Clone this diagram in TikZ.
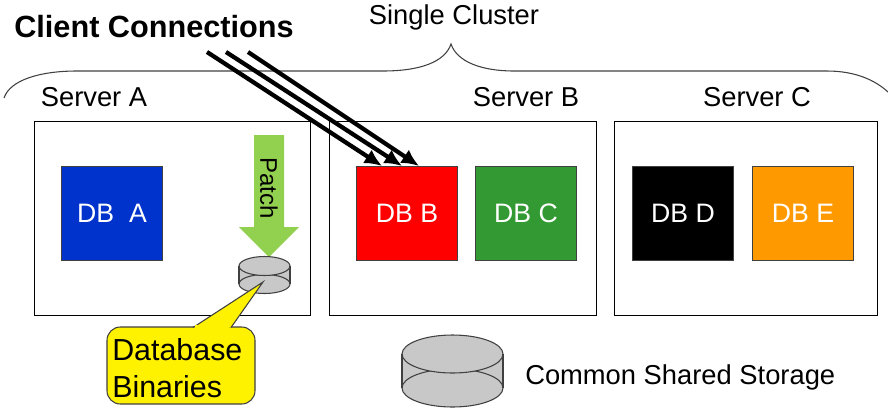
\documentclass[tikz,border=0pt]{standalone}
\usepackage{fontspec}
\setmainfont{Liberation Sans}
\usetikzlibrary{arrows.meta}
\definecolor{dbblue}{HTML}{0033CC}
\definecolor{dbgreen}{HTML}{339933}
\definecolor{dborange}{HTML}{FF9900}
\definecolor{patchgreen}{HTML}{92D050}
\definecolor{diskgrey}{HTML}{C8C8C8}
\definecolor{edgegrey}{HTML}{404040}
\tikzset{
    serverbox/.style={draw=black, line width=0.7pt, fill=white},
    dbbox/.style={draw=edgegrey, line width=0.6pt, text=white, inner sep=0pt, minimum width=76pt, minimum height=70pt, font=\fontsize{20}{24}\selectfont},
    label/.style={font=\fontsize{20.5}{24}\selectfont, text=black},
    disk/.style={draw=edgegrey, line width=0.8pt, fill=diskgrey},
    client/.style={line width=3.2pt, -{Latex[length=13pt,width=12pt]}},
}
\begin{document}
\begin{tikzpicture}[x=0.75pt, y=-0.75pt]
    \useasboundingbox (0,0) rectangle (888,408);
    % cluster brace
    \draw [edgegrey, line width=0.8pt] (4,98) .. controls (10,80) and (40,71) .. (77,71) -- (383,71)
        .. controls (420,71) and (445,62) .. (451,44) .. controls (457,62) and (482,71) .. (514,71)
        -- (827,71) .. controls (855,71) and (875,80) .. (888,92);
    % servers
    \draw [serverbox] (34,121) rectangle (310,315);
    \draw [serverbox] (329,121) rectangle (596,315);
    \draw [serverbox] (614,121) rectangle (877,315);
    % databases
    \node [dbbox, fill=dbblue] (dbA) at (112,213.5) {DB\ \ A};
    \node [dbbox, fill=red] (dbB) at (407,213.5) {DB B};
    \node [dbbox, fill=dbgreen] (dbC) at (526,213.5) {DB C};
    \node [dbbox, fill=black] (dbD) at (683,213.5) {DB D};
    \node [dbbox, fill=dborange] (dbE) at (803,213.5) {DB E};
    % patch arrow
    \fill [patchgreen] (254,135) -- (284,135) -- (284,227) -- (299,227) -- (269,257) -- (239,227) -- (254,227) -- cycle;
    \node [rotate=-90, font=\fontsize{18}{20}\selectfont] (patch) at (269,188) {Patch};
    % binaries disk
    \fill [diskgrey] (239,266) rectangle (290,284);
    \draw [disk] (264.5,284) ellipse [x radius=25.5, y radius=9.5];
    \draw [disk] (264.5,266) ellipse [x radius=25.5, y radius=9.5];
    \draw [edgegrey, line width=0.8pt] (239,266) -- (239,284) (290,266) -- (290,284);
    % callout
    \draw [edgegrey, line width=0.8pt, fill=yellow, rounded corners=10pt] (212,327) -- (107,327) -- (107,404) -- (255,404) -- (255,327) -- (212,327);
    \draw [edgegrey, line width=0.8pt, fill=yellow] (231,327.5) -- (263,282) -- (193,327.5);
    \fill [yellow] (195,325) rectangle (229,329);
    \node [anchor=west, inner sep=0pt, font=\fontsize{22.8}{27}\selectfont] (binA) at (112,350) {Database};
    \node [anchor=west, inner sep=0pt, font=\fontsize{22.8}{27}\selectfont] (binB) at (112,387) {Binaries};
    % shared storage disk
    \fill [diskgrey] (402,354) rectangle (503,388);
    \draw [disk] (452.5,388) ellipse [x radius=50.5, y radius=19];
    \draw [disk] (452.5,354) ellipse [x radius=50.5, y radius=19];
    \draw [edgegrey, line width=0.8pt] (402,354) -- (402,388) (503,354) -- (503,388);
    % labels
    \node [label, anchor=west, inner sep=0pt] (storage) at (525,377) {Common Shared Storage};
    \node [label] (cluster) at (454,17) {Single Cluster};
    \node [label] (serverA) at (94,97) {Server A};
    \node [label] (serverB) at (526,97) {Server B};
    \node [label] (serverC) at (757,97) {Server C};
    \node [font=\fontsize{23}{27}\selectfont\bfseries] (clients) at (154,27) {Client Connections};
    % client arrows
    \coordinate (connA) at (207,52);
    \coordinate (connB) at (226,52);
    \coordinate (connC) at (248,52);
    \coordinate (tipA) at (382,166);
    \coordinate (tipB) at (402,166);
    \coordinate (tipC) at (419,166);
    \draw [client] (connA) -- (tipA);
    \draw [client] (connB) -- (tipB);
    \draw [client] (connC) -- (tipC);
\end{tikzpicture}
\end{document}
